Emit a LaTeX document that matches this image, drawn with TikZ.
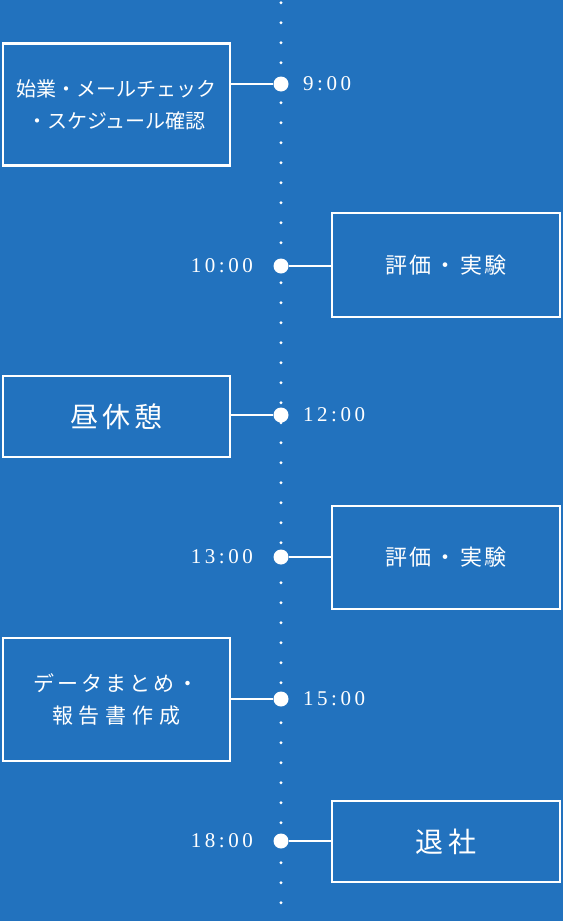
\documentclass[tikz,border=0pt]{standalone}
\usepackage{fontspec}
\newfontfamily\jpfont{Noto Sans CJK JP}
\newfontfamily\numfont{Liberation Serif}
\definecolor{bg}{HTML}{2272BE}
\newcommand\dg{\kern3.5pt}
\newcommand\cg{\kern3pt}
\newcommand\mg{\kern4pt}
\newcommand\wg{\kern6pt}
\tikzset{
  boxnode/.style={draw=white, line width=2.2pt, text=white, align=center, inner sep=0pt},
  jpsmall/.style={font=\jpfont\fontsize{20}{32}\selectfont},
  jpmid/.style={font=\jpfont\fontsize{22}{32}\selectfont},
  jptwo/.style={font=\jpfont\fontsize{21}{32}\selectfont},
  jpbig/.style={font=\jpfont\fontsize{28}{32}\selectfont},
  timedot/.style={circle, fill=white, inner sep=0pt, minimum size=15pt},
  conn/.style={draw=white, line width=1.8pt},
  timelabel/.style={text=white, inner sep=0pt, font=\numfont\fontsize{21}{21}\selectfont}
}
\begin{document}
\begin{tikzpicture}[x=1pt,y=-1pt]
\fill[bg] (0,0) rectangle (563,921);
\useasboundingbox (0,0) rectangle (563,921);
% dotted timeline
\draw[white, line width=3.2pt, line cap=round, dash pattern=on 0pt off 20pt] (281,2.7) -- (281,921);
% boxes
\node[boxnode, jpsmall, minimum width=227pt, minimum height=122pt] (b1) at (116.5,104.5) {始業・メールチェック\\・スケジュール確認};
\node[boxnode, jpmid, minimum width=228pt, minimum height=104pt] (b2) at (446,265) {評\cg 価\cg ・\cg 実\cg 験};
\node[boxnode, jpbig, minimum width=227pt, minimum height=81pt] (b3) at (116.5,416.5) {昼\mg 休\mg 憩};
\node[boxnode, jpmid, minimum width=228pt, minimum height=103pt] (b4) at (446,557.5) {評\cg 価\cg ・\cg 実\cg 験};
\node[boxnode, jptwo, minimum width=227pt, minimum height=123pt] (b5) at (116.5,699.5) {デ\cg ー\cg タ\cg ま\cg と\cg め\cg ・\\報\wg 告\wg 書\wg 作\wg 成};
\node[boxnode, jpbig, minimum width=228pt, minimum height=81pt] (b6) at (446,841.5) {退\wg 社};
% dots
\node[timedot] (d1) at (281,84) {};
\node[timedot] (d2) at (281,266) {};
\node[timedot] (d3) at (281,415) {};
\node[timedot] (d4) at (281,557) {};
\node[timedot] (d5) at (281,699) {};
\node[timedot] (d6) at (281,841) {};
% connectors
\draw[conn] (d1) -- (d1 -| b1.east);
\draw[conn] (d2) -- (d2 -| b2.west);
\draw[conn] (d3) -- (d3 -| b3.east);
\draw[conn] (d4) -- (d4 -| b4.west);
\draw[conn] (d5) -- (d5 -| b5.east);
\draw[conn] (d6) -- (d6 -| b6.west);
% time labels
\node[timelabel, anchor=west] (t1) at (303,84) {9\dg :\dg 0\dg 0};
\node[timelabel, anchor=east] (t2) at (253,266) {1\dg 0\dg :\dg 0\dg 0};
\node[timelabel, anchor=west] (t3) at (303,415) {1\dg 2\dg :\dg 0\dg 0};
\node[timelabel, anchor=east] (t4) at (253,557) {1\dg 3\dg :\dg 0\dg 0};
\node[timelabel, anchor=west] (t5) at (303,699) {1\dg 5\dg :\dg 0\dg 0};
\node[timelabel, anchor=east] (t6) at (253,841) {1\dg 8\dg :\dg 0\dg 0};
\end{tikzpicture}
\end{document}
